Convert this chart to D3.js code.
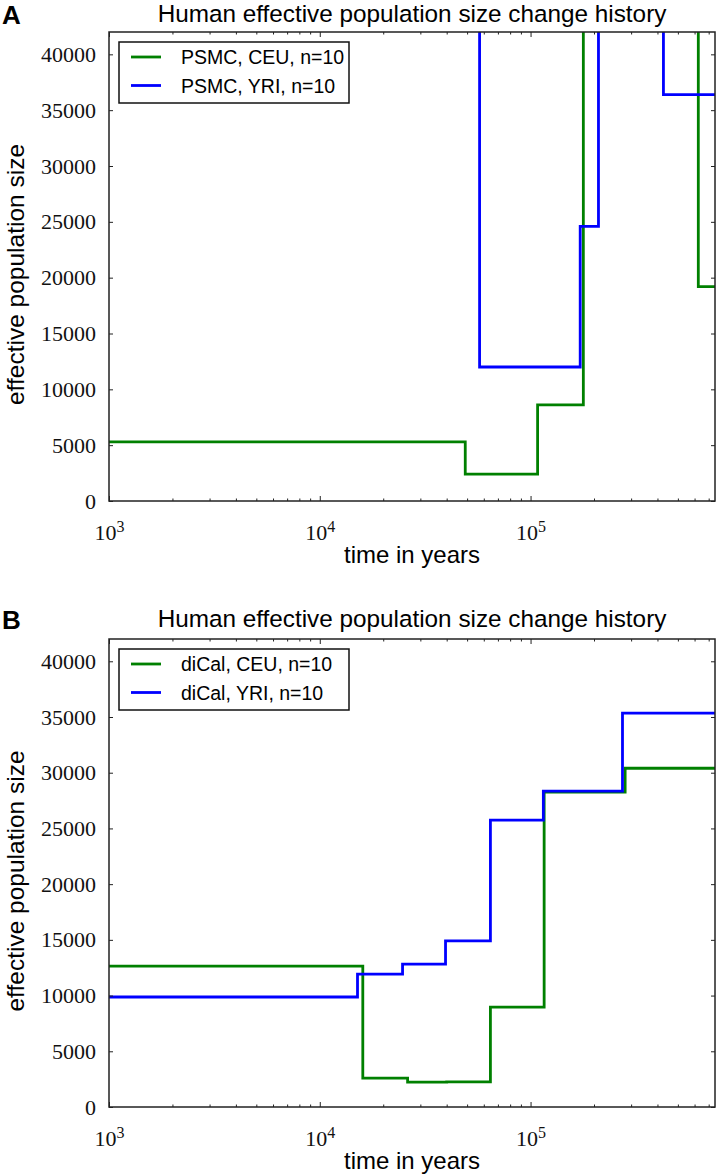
<!DOCTYPE html>
<html>
<head>
<meta charset="utf-8">
<script src="https://cdn.jsdelivr.net/npm/d3@7"></script>
<style>
  body { margin: 0; background: #fff; }
</style>
</head>
<body>
<div id="chart"></div>
<script>
// panel A: PSMC step curves (breakpoints in years, Ne per step)
const psmcCeuTimes = [1000, 49000, 108000, 178000, 625000, 750000];
const psmcCeuNe = [5300, 2400, 8600, 60000, 19200, 19200];
const psmcYriTimes = [1000, 57300, 172000, 210000, 427000, 750000];
const psmcYriNe = [60000, 12000, 24600, 60000, 36400, 36400];

// panel B: diCal step curves
const dicalCeuTimes = [1000, 16000, 26100, 40000, 64500, 116000, 281000, 750000];
const dicalCeuNe = [12650, 2600, 2240, 2260, 8970, 28250, 30400, 30400];
const dicalYriTimes = [1000, 15100, 24700, 39500, 64500, 115000, 273000, 750000];
const dicalYriNe = [9870, 11930, 12830, 14900, 25740, 28340, 35340, 35340];

const yTicks = [0, 5000, 10000, 15000, 20000, 25000, 30000, 35000, 40000];
const xDecades = [1e3, 1e4, 1e5];
const xMinor = [];
xDecades.forEach((d) => { for (let k = 2; k <= 9; k++) if (d * k <= 7.5e5) xMinor.push(d * k); });

const title = "Human effective population size change history";

const panels = [
  { letter: "A", top: 32, bottom: 501, titleGap: 10,
    series: [
      { label: "PSMC, CEU, n=10", color: "#008000", times: psmcCeuTimes, ne: psmcCeuNe },
      { label: "PSMC, YRI, n=10", color: "#0000ff", times: psmcYriTimes, ne: psmcYriNe },
    ] },
  { letter: "B", top: 639, bottom: 1107, titleGap: 12,
    series: [
      { label: "diCal, CEU, n=10", color: "#008000", times: dicalCeuTimes, ne: dicalCeuNe },
      { label: "diCal, YRI, n=10", color: "#0000ff", times: dicalYriTimes, ne: dicalYriNe },
    ] },
];

const width = 718, height = 1174;
const left = 109, right = 715;
const sans = "'Liberation Sans', Arial, sans-serif";
const serif = "'Liberation Serif', 'Times New Roman', serif";

const svg = d3.select("#chart").append("svg")
  .attr("width", width).attr("height", height);

const x = d3.scaleLog().domain([1e3, 7.5e5]).range([left, right]);

panels.forEach((p, pi) => {
  const y = d3.scaleLinear().domain([0, 42000]).range([p.bottom, p.top]);
  const g = svg.append("g");

  // clip for the step lines
  g.append("clipPath").attr("id", "clip" + pi)
    .append("rect")
    .attr("x", left).attr("y", p.top)
    .attr("width", right - left).attr("height", p.bottom - p.top);

  const line = d3.line()
    .x((d) => x(d[0]))
    .y((d) => y(d[1]))
    .curve(d3.curveStepAfter);

  p.series.forEach((s) => {
    const pts = s.times.map((t, i) => [t, s.ne[i]]);
    g.append("path")
      .attr("clip-path", `url(#clip${pi})`)
      .attr("d", line(pts))
      .attr("fill", "none")
      .attr("stroke", s.color)
      .attr("stroke-width", 2.8);
  });

  // axes, ticks pointing inwards like matplotlib classic
  const yl = g.append("g").attr("transform", `translate(${left},0)`)
    .call(d3.axisLeft(y).tickValues(yTicks).tickFormat(d3.format("d"))
      .tickSize(-4).tickSizeOuter(0).tickPadding(13));
  yl.selectAll("text").style("font-family", serif).style("font-size", "22px").attr("fill", "#111");

  g.append("g").attr("transform", `translate(${right},0)`)
    .call(d3.axisRight(y).tickValues(yTicks).tickSize(-4).tickSizeOuter(0).tickFormat(""));

  const xb = g.append("g").attr("transform", `translate(0,${p.bottom})`)
    .call(d3.axisBottom(x).tickValues(xDecades).tickSize(-5).tickSizeOuter(0).tickPadding(23)
      .tickFormat(() => ""));
  xb.selectAll(".tick text").each(function (d) {
    const t = d3.select(this).style("font-family", serif).style("font-size", "22px").attr("fill", "#111");
    t.append("tspan").text("10");
    t.append("tspan").attr("dy", "-0.45em").style("font-size", "16px").text(Math.round(Math.log10(d)));
  });
  g.append("g").attr("transform", `translate(0,${p.bottom})`)
    .call(d3.axisBottom(x).tickValues(xMinor).tickSize(-2.5).tickSizeOuter(0).tickFormat(""));

  g.append("g").attr("transform", `translate(0,${p.top})`)
    .call(d3.axisTop(x).tickValues(xDecades).tickSize(-5).tickSizeOuter(0).tickFormat(""));
  g.append("g").attr("transform", `translate(0,${p.top})`)
    .call(d3.axisTop(x).tickValues(xMinor).tickSize(-2.5).tickSizeOuter(0).tickFormat(""));

  g.selectAll(".domain").remove();
  g.selectAll(".tick line").attr("stroke", "#222").attr("stroke-width", 1);

  // frame
  g.append("rect")
    .attr("x", left).attr("y", p.top)
    .attr("width", right - left).attr("height", p.bottom - p.top)
    .attr("fill", "none").attr("stroke", "#222").attr("stroke-width", 1.5);

  // texts
  g.append("text")
    .attr("x", (left + right) / 2).attr("y", p.top - p.titleGap)
    .attr("text-anchor", "middle")
    .style("font-family", sans).style("font-size", "24.3px")
    .text(title);

  g.append("text")
    .attr("x", 2).attr("y", p.top - p.titleGap + 2)
    .style("font-family", sans).style("font-size", "26px").style("font-weight", "bold")
    .text(p.letter);

  g.append("text")
    .attr("x", (left + right) / 2).attr("y", p.bottom + 62)
    .attr("text-anchor", "middle")
    .style("font-family", sans).style("font-size", "24px")
    .text("time in years");

  g.append("text")
    .attr("transform", `translate(24,${(p.top + p.bottom) / 2 + 8}) rotate(-90)`)
    .attr("text-anchor", "middle")
    .style("font-family", sans).style("font-size", "24.5px")
    .text("effective population size");

  // legend
  const lg = g.append("g");
  lg.append("rect")
    .attr("x", 119).attr("y", p.top + 10)
    .attr("width", 230).attr("height", 61)
    .attr("fill", "#fff").attr("stroke", "#111").attr("stroke-width", 1.5);
  p.series.forEach((s, i) => {
    const ly = p.top + 25 + i * 28.5;
    lg.append("line")
      .attr("x1", 131).attr("x2", 161).attr("y1", ly).attr("y2", ly)
      .attr("stroke", s.color).attr("stroke-width", 2.8);
    lg.append("text")
      .attr("x", 181).attr("y", ly).attr("dy", "0.36em")
      .style("font-family", sans).style("font-size", "19.5px")
      .text(s.label);
  });
});
</script>
</body>
</html>
